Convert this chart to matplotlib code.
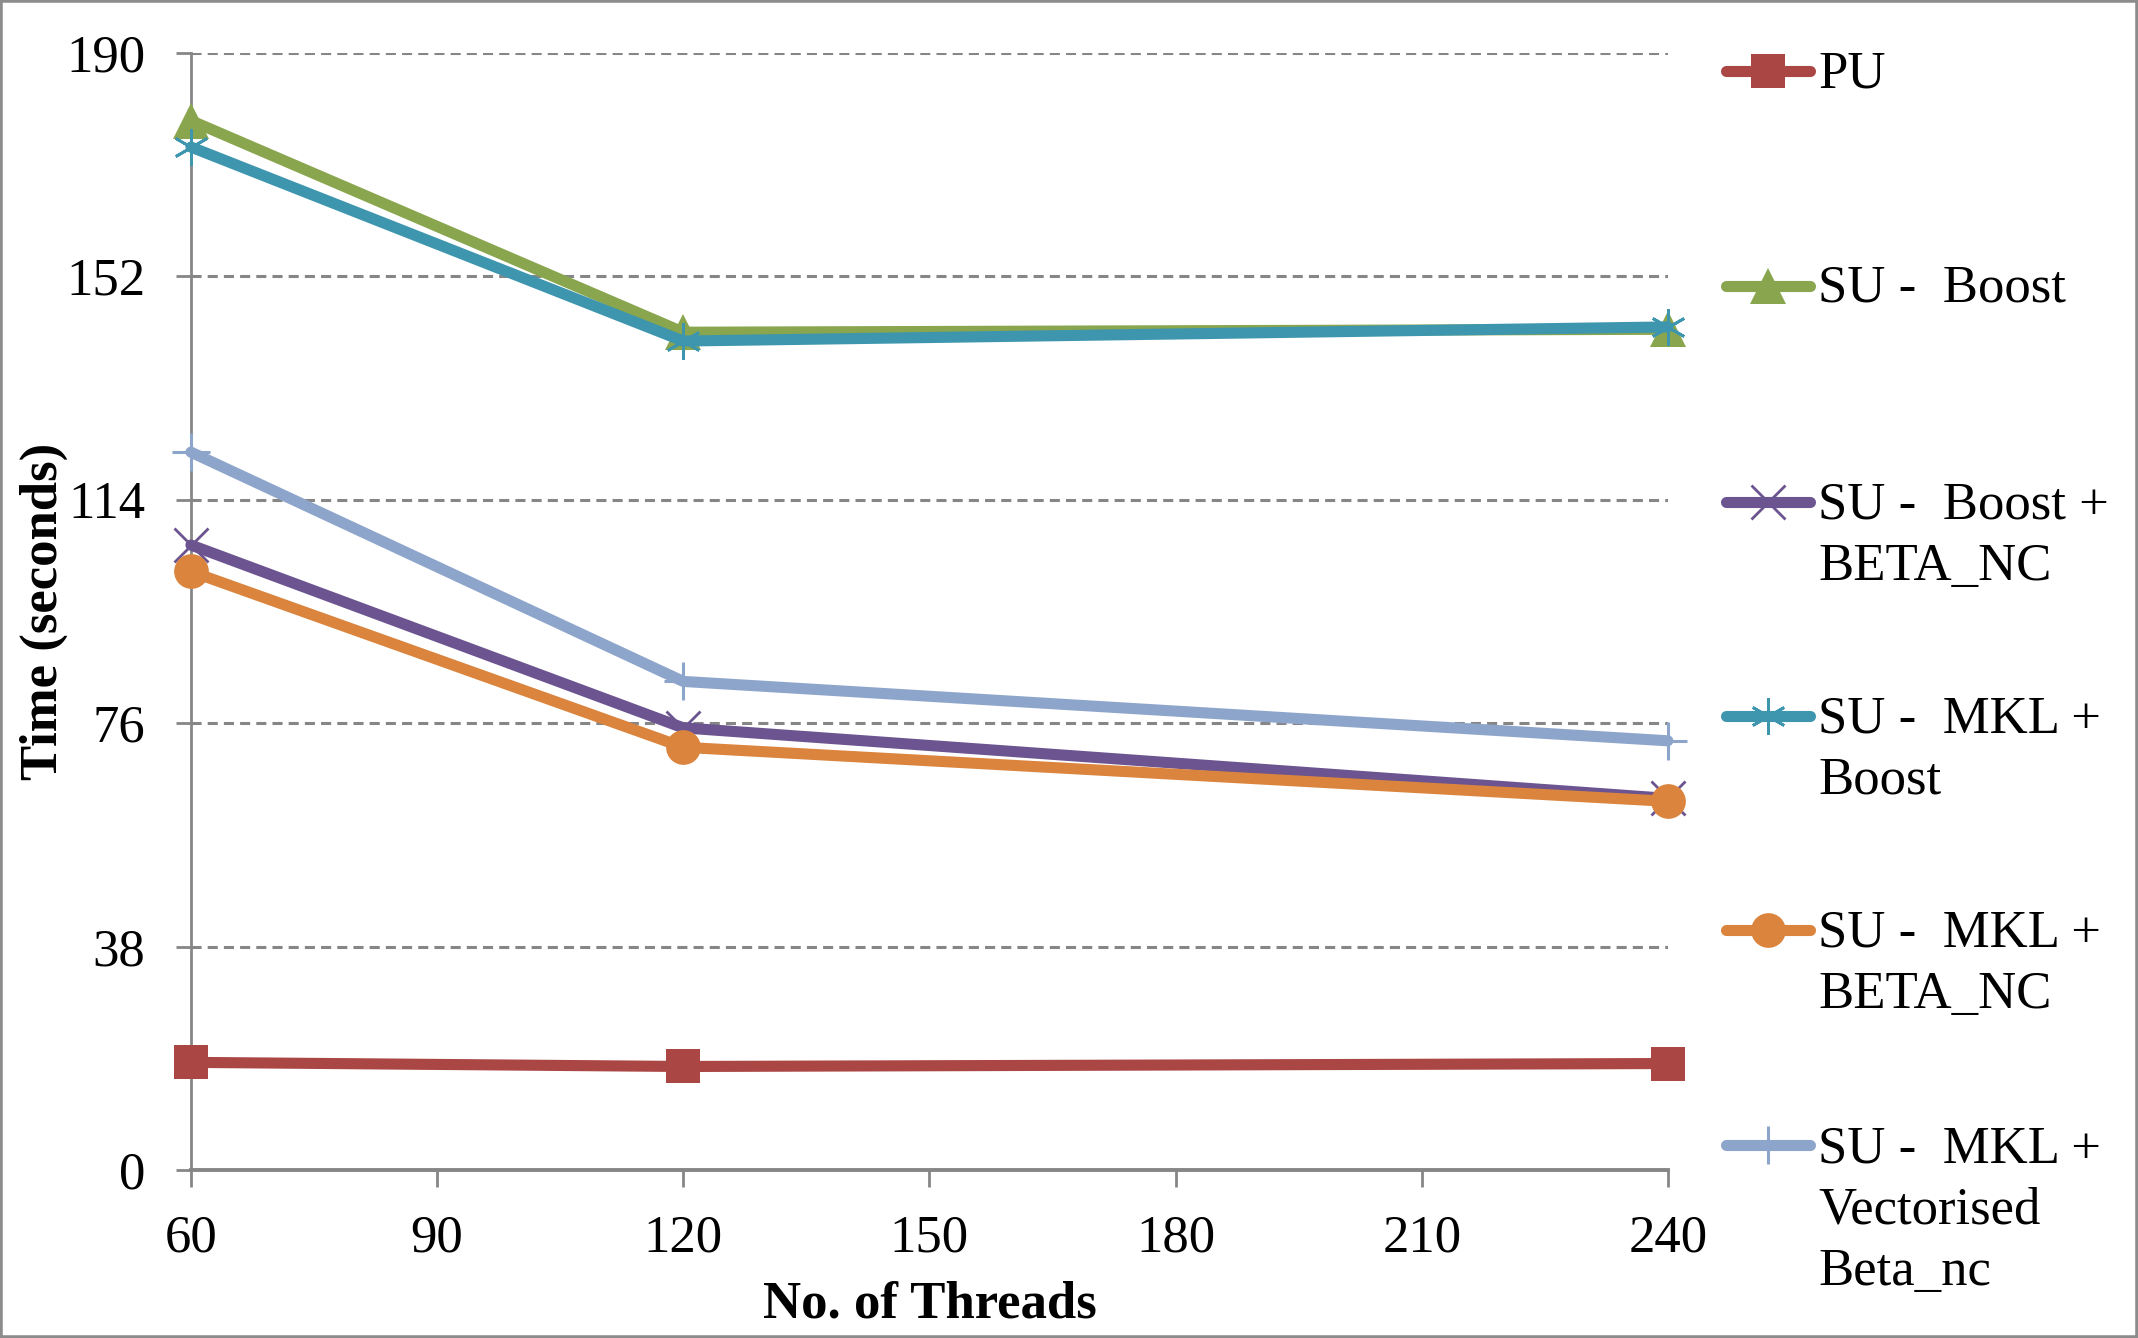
import numpy as np
import matplotlib
matplotlib.use("Agg")
import matplotlib.pyplot as plt
from matplotlib.lines import Line2D
from matplotlib.patches import Rectangle

threads = [60, 120, 240]
pu = [18.3, 17.6, 18.1]
su_boost = [178.5, 142.5, 143.0]
su_boost_beta = [106.3, 75.2, 63.2]
su_mkl_boost = [174.0, 141.0, 143.4]
su_mkl_beta = [101.8, 71.9, 62.7]
su_mkl_vec = [122.1, 83.1, 73.0]

labels = ["PU", "SU -  Boost", "SU -  Boost +\nBETA_NC", "SU -  MKL +\nBoost",
          "SU -  MKL +\nBETA_NC", "SU -  MKL +\nVectorised\nBeta_nc"]
yticks = [0, 38, 76, 114, 152, 190]
xticks = [60, 90, 120, 150, 180, 210, 240]

plt.rcParams['font.family'] = ['Liberation Serif', 'DejaVu Serif']
fs = 38
gray = '#868686'
lw = 8.0

fig = plt.figure(figsize=(21.38, 13.38), dpi=100)
ax = fig.add_axes([0.0893, 0.1256, 0.6908, 0.8348])

# style per series: color, marker, size, edge width, filled
styles = [
    ('#AA4643', 's', 24, 0, True),
    ('#89A54E', '^', 26, 0, True),
    ('#6B548F', 'x', 24, 2.0, False),
    ('#3D96AE', (6, 2, 0), 26, 2.0, False),
    ('#DB843D', 'o', 25, 0, True),
    ('#8EA5CB', '+', 28, 2.2, False),
]
series = [pu, su_boost, su_boost_beta, su_mkl_boost, su_mkl_beta, su_mkl_vec]

for vals, (c, m, ms, mew, filled) in zip(series, styles):
    ax.plot(threads, vals, color=c, lw=lw, marker=m, markersize=ms,
            markeredgewidth=mew if not filled else 0, markerfacecolor=c,
            markeredgecolor=c, solid_capstyle='round', clip_on=False, zorder=3)

ax.set_xlim(60, 240)
ax.set_ylim(0, 190)
ax.set_xticks(xticks)
ax.set_yticks(yticks)
ax.tick_params(axis='y', length=11, width=2.0, color=gray, pad=22, labelsize=fs)
ax.tick_params(axis='x', length=12, width=2.0, color=gray, pad=20, labelsize=fs)
for s in ['top', 'right']:
    ax.spines[s].set_visible(False)
ax.spines['left'].set_color(gray)
ax.spines['left'].set_linewidth(2.0)
ax.spines['bottom'].set_color(gray)
ax.spines['bottom'].set_linewidth(2.8)
for y in yticks[1:]:
    ax.axhline(y, color=gray, lw=2.2, ls=(0, (3.3, 2.0)), zorder=1)

ax.set_xlabel("No. of Threads", fontsize=fs, fontweight='bold')
ax.set_ylabel("Time (seconds)", fontsize=fs, fontweight='bold')
ax.xaxis.set_label_coords(0.5, -0.099)
ax.yaxis.set_label_coords(-0.083, 0.5)

# legend drawn by hand so the key lines up with the first text line
W, H = 2138.0, 1338.0
entry_y = [71, 286, 502, 716, 930, 1145]
line_gap = 62.0
for lab, ey, (c, m, ms, mew, filled) in zip(labels, entry_y, styles):
    yf = 1 - ey / H
    fig.add_artist(Line2D([1726 / W, 1810 / W], [yf, yf], transform=fig.transFigure,
                          color=c, lw=lw, solid_capstyle='round'))
    fig.add_artist(Line2D([1768 / W], [yf], transform=fig.transFigure, color=c,
                          marker=m, markersize=ms, markerfacecolor=c, markeredgecolor=c,
                          markeredgewidth=mew if not filled else 0, lw=0))
    nl = lab.count("\n")
    fig.text(1818 / W, 1 - (ey + 16 + nl * line_gap) / H, lab, fontsize=fs,
             va='baseline', ha='left', linespacing=1.363)

fig.patches.append(Rectangle((0, 0), 1, 1, transform=fig.transFigure, fill=False,
                             ec='#8c8c8c', lw=4))

fig.savefig("out.png", dpi=100)
